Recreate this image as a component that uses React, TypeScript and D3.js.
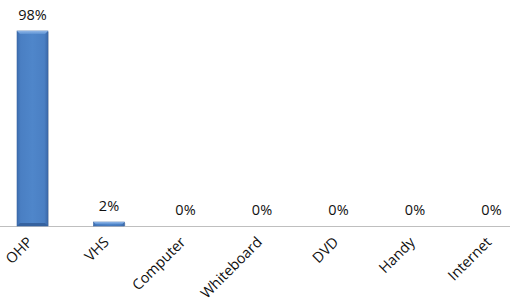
import React from "react";
import * as d3 from "d3";

const categories = ["OHP", "VHS", "Computer", "Whiteboard", "DVD", "Handy", "Internet"];
const values = [98, 2, 0, 0, 0, 0, 0];
const valueLabels = ["98%", "2%", "0%", "0%", "0%", "0%", "0%"];

const W = 510;
const H = 304;

export default function App() {
  const x = d3.scaleBand<string>().domain(categories).range([-5.75, 529.75]).paddingInner(0.595).paddingOuter(0.2975);
  const y = d3.scaleLinear().domain([0, 100]).range([226, 27]);
  const bw = x.bandwidth();
  const font = "'Open Sans', 'Noto Sans', sans-serif";
  return (
    <svg width={W} height={H} style={{ position: "absolute", left: 0, top: 0, background: "#fff" }}>
      <defs>
        <linearGradient id="barG" x1="0" x2="1" y1="0" y2="0">
          <stop offset="0" stopColor="#3c6db0" />
          <stop offset="0.12" stopColor="#4a7fc3" />
          <stop offset="0.5" stopColor="#4f86ca" />
          <stop offset="0.88" stopColor="#4a7fc3" />
          <stop offset="1" stopColor="#3a68a8" />
        </linearGradient>
        <linearGradient id="topG" x1="0" x2="0" y1="0" y2="1">
          <stop offset="0" stopColor="#8fb5e6" />
          <stop offset="1" stopColor="#5d92d3" />
        </linearGradient>
      </defs>
      <line x1={0} x2={W} y1={y(0) + 0.5} y2={y(0) + 0.5} stroke="#bfbfbf" strokeWidth={1} />
      {categories.map((c, i) => {
        const x0 = x(c)!;
        const top = y(values[i]);
        const h = y(0) - top;
        const bev = Math.min(3, h / 2);
        return (
          <g key={c}>
            {h > 0 && (
              <g>
                <rect x={x0 + 1} y={top + 1} width={bw} height={h} fill="#c8c8c8" opacity={0.6} />
                <rect x={x0} y={top} width={bw} height={h} fill="url(#barG)" stroke="#3a66a3" strokeWidth={0.6} />
                <path
                  d={`M${x0},${top} L${x0 + bw},${top} L${x0 + bw - bev},${top + bev} L${x0 + bev},${top + bev} Z`}
                  fill="url(#topG)"
                />
                {h > 6 && (
                  <path
                    d={`M${x0},${y(0)} L${x0 + bw},${y(0)} L${x0 + bw - bev},${y(0) - bev} L${x0 + bev},${y(0) - bev} Z`}
                    fill="#35629f"
                  />
                )}
              </g>
            )}
            <text
              x={x0 + bw / 2}
              y={top - 11}
              textAnchor="middle"
              fontFamily={font}
              fontSize={14.5}
              fill="#111"
            >
              {valueLabels[i]}
            </text>
            <text
              transform={`translate(${x0 + bw / 2 + 1},${y(0) + 17}) rotate(-45)`}
              textAnchor="end"
              fontFamily={font}
              fontSize={14.5}
              fill="#111"
            >
              {c}
            </text>
          </g>
        );
      })}
    </svg>
  );
}
